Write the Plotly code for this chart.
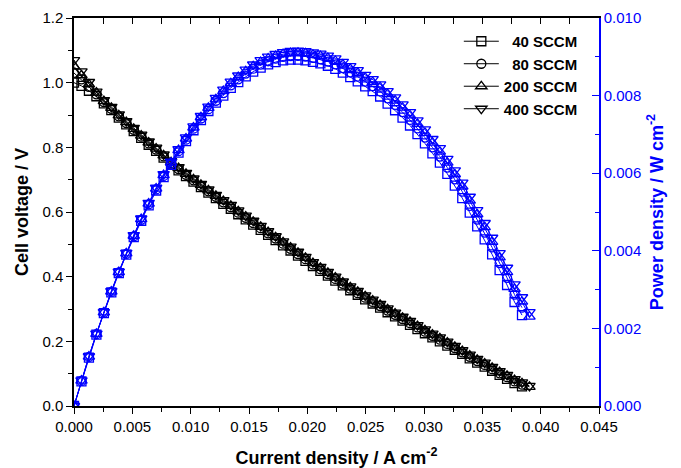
import plotly.graph_objects as go

# Current density sweep (A cm^-2), shared by all flow rates
current = [0.0, 0.00064, 0.00128, 0.00192, 0.00256, 0.0032, 0.00384, 0.00448, 0.00512, 0.00576,
           0.0064, 0.00704, 0.00768, 0.00832, 0.00896, 0.0096, 0.01024, 0.01088, 0.01152, 0.01216,
           0.0128, 0.01344, 0.01408, 0.01472, 0.01536, 0.016, 0.01664, 0.01728, 0.01792, 0.01856,
           0.0192, 0.01984, 0.02048, 0.02112, 0.02176, 0.0224, 0.02304, 0.02368, 0.02432, 0.02496,
           0.0256, 0.02624, 0.02688, 0.02752, 0.02816, 0.0288, 0.02944, 0.03008, 0.03072, 0.03136,
           0.032, 0.03264, 0.03328, 0.03392, 0.03456, 0.0352, 0.03584, 0.03648, 0.03712, 0.03776,
           0.0384, 0.03904]

# Cell voltage (V) for each hydrogen flow rate
v_40 = [1.000, 0.990, 0.975, 0.958, 0.936, 0.915, 0.892, 0.871, 0.850, 0.829,
        0.808, 0.789, 0.768, 0.747, 0.729, 0.711, 0.694, 0.677, 0.660, 0.643,
        0.625, 0.610, 0.593, 0.577, 0.561, 0.545, 0.529, 0.513, 0.497, 0.481,
        0.465, 0.449, 0.433, 0.418, 0.403, 0.388, 0.373, 0.358, 0.344, 0.330,
        0.317, 0.304, 0.290, 0.277, 0.264, 0.251, 0.238, 0.225, 0.212, 0.200,
        0.187, 0.174, 0.161, 0.147, 0.134, 0.122, 0.109, 0.096, 0.084, 0.071,
        0.061]
v_80 = [1.030, 1.010, 0.987, 0.964, 0.940, 0.919, 0.896, 0.875, 0.854, 0.833,
        0.812, 0.793, 0.772, 0.751, 0.733, 0.715, 0.698, 0.681, 0.664, 0.647,
        0.630, 0.615, 0.598, 0.582, 0.566, 0.550, 0.534, 0.518, 0.502, 0.486,
        0.470, 0.454, 0.438, 0.423, 0.408, 0.393, 0.378, 0.363, 0.349, 0.335,
        0.322, 0.309, 0.295, 0.282, 0.269, 0.256, 0.243, 0.230, 0.217, 0.205,
        0.192, 0.179, 0.166, 0.152, 0.139, 0.127, 0.114, 0.101, 0.089, 0.076,
        0.066]
v_200 = [1.050, 1.023, 0.995, 0.969, 0.943, 0.922, 0.899, 0.878, 0.857, 0.836,
         0.815, 0.796, 0.775, 0.754, 0.736, 0.718, 0.701, 0.684, 0.667, 0.650,
         0.634, 0.619, 0.602, 0.586, 0.570, 0.554, 0.538, 0.522, 0.506, 0.490,
         0.474, 0.458, 0.442, 0.427, 0.412, 0.397, 0.382, 0.367, 0.353, 0.339,
         0.326, 0.313, 0.299, 0.286, 0.273, 0.260, 0.247, 0.234, 0.221, 0.209,
         0.196, 0.183, 0.170, 0.156, 0.143, 0.131, 0.118, 0.105, 0.093, 0.080,
         0.070, 0.059]
v_400 = [1.070, 1.035, 1.002, 0.972, 0.946, 0.925, 0.902, 0.881, 0.860, 0.839,
         0.818, 0.799, 0.778, 0.757, 0.739, 0.721, 0.704, 0.687, 0.670, 0.653,
         0.637, 0.622, 0.605, 0.589, 0.573, 0.557, 0.541, 0.525, 0.509, 0.493,
         0.477, 0.461, 0.445, 0.430, 0.415, 0.400, 0.385, 0.370, 0.356, 0.342,
         0.329, 0.316, 0.302, 0.289, 0.276, 0.263, 0.250, 0.237, 0.224, 0.212,
         0.199, 0.186, 0.173, 0.159, 0.146, 0.134, 0.121, 0.108, 0.096, 0.083,
         0.073, 0.062]

series_names = ["\u200740 SCCM", "\u200780 SCCM", "200 SCCM", "400 SCCM"]
series_volts = [v_40, v_80, v_200, v_400]
symbols = ["square-open", "circle-open", "triangle-up-open", "triangle-down-open"]
sizes = [9, 9, 10, 10]

FONT = "Liberation Sans, Arial, sans-serif"
BLUE = "#0000ff"

fig = go.Figure()

# Polarisation curves (left axis)
for name, volts, sym, sz in zip(series_names, series_volts, symbols, sizes):
    cur = current[:len(volts)]
    fig.add_trace(go.Scatter(
        x=cur, y=volts, name=name, mode="lines+markers",
        line=dict(color="black", width=1),
        marker=dict(symbol=sym, size=sz, color="black", line=dict(width=1.3)),
        xaxis="x", yaxis="y"))

# Power density curves P = I * V (right axis)
for volts, sym, sz in zip(series_volts, symbols, sizes):
    cur = current[:len(volts)]
    power = [i * v for i, v in zip(cur, volts)]
    fig.add_trace(go.Scatter(
        x=cur, y=power, mode="lines+markers", showlegend=False,
        line=dict(color=BLUE, width=1),
        marker=dict(symbol=sym, size=sz, color=BLUE, line=dict(width=1.3)),
        xaxis="x", yaxis="y2"))

# Placeholder trace so the mirrored top axis is drawn
fig.add_trace(go.Scatter(x=[None], y=[None], xaxis="x2", yaxis="y",
                         showlegend=False, hoverinfo="skip"))

fig.update_layout(
    width=681, height=468,
    margin=dict(l=74, r=82, t=18, b=62, autoexpand=False),
    paper_bgcolor="white", plot_bgcolor="white",
    font=dict(family=FONT, size=15, color="black"),
    showlegend=True,
    legend=dict(x=0.733, y=0.982, xanchor="left", yanchor="top",
                bgcolor="rgba(0,0,0,0)", borderwidth=0,
                font=dict(family=FONT, size=15, color="black", weight="bold"),
                itemwidth=35, tracegroupgap=0),
    xaxis=dict(
        range=[0, 0.045], dtick=0.005, tick0=0, tickformat=".3f",
        showgrid=False, zeroline=False, automargin=False,
        showline=True, linecolor="black", linewidth=1.5,
        ticks="outside", ticklen=6, tickwidth=1.3, tickcolor="black",
        minor=dict(dtick=0.0025, ticks="outside", ticklen=4, tickwidth=1.3, tickcolor="black"),
        tickfont=dict(size=15),
        title=dict(text="Current density / A cm<sup>-2</sup>", standoff=18,
                   font=dict(size=18, weight="bold"))),
    xaxis2=dict(
        overlaying="x", side="top", matches="x", range=[0, 0.045],
        dtick=0.005, tick0=0, showticklabels=False, automargin=False,
        showgrid=False, zeroline=False,
        showline=True, linecolor="black", linewidth=1.5,
        ticks="inside", ticklen=6, tickwidth=1.3, tickcolor="black",
        minor=dict(dtick=0.0025, ticks="inside", ticklen=6, tickwidth=1.3, tickcolor="black")),
    yaxis=dict(
        range=[0, 1.2], dtick=0.2, tick0=0, tickformat=".1f",
        showgrid=False, zeroline=False, automargin=False,
        showline=True, linecolor="black", linewidth=1.5,
        ticks="outside", ticklen=6, tickwidth=1.3, tickcolor="black",
        minor=dict(dtick=0.1, ticks="outside", ticklen=4, tickwidth=1.3, tickcolor="black"),
        tickfont=dict(size=15),
        title=dict(text="Cell voltage / V", standoff=9,
                   font=dict(size=18, weight="bold"))),
    yaxis2=dict(
        overlaying="y", side="right", range=[0, 0.010], dtick=0.002, tick0=0,
        tickformat=".3f", showgrid=False, zeroline=False, automargin=False,
        showline=True, linecolor=BLUE, linewidth=1.5,
        ticks="inside", ticklen=7, tickwidth=1.3, tickcolor=BLUE,
        minor=dict(dtick=0.001, ticks="inside", ticklen=4, tickwidth=1.3, tickcolor=BLUE),
        tickfont=dict(size=15, color=BLUE),
        title=dict(text="Power density / W cm<sup>-2</sup>", standoff=10,
                   font=dict(size=18, weight="bold", color=BLUE))),
)

fig.write_html("out.html")
